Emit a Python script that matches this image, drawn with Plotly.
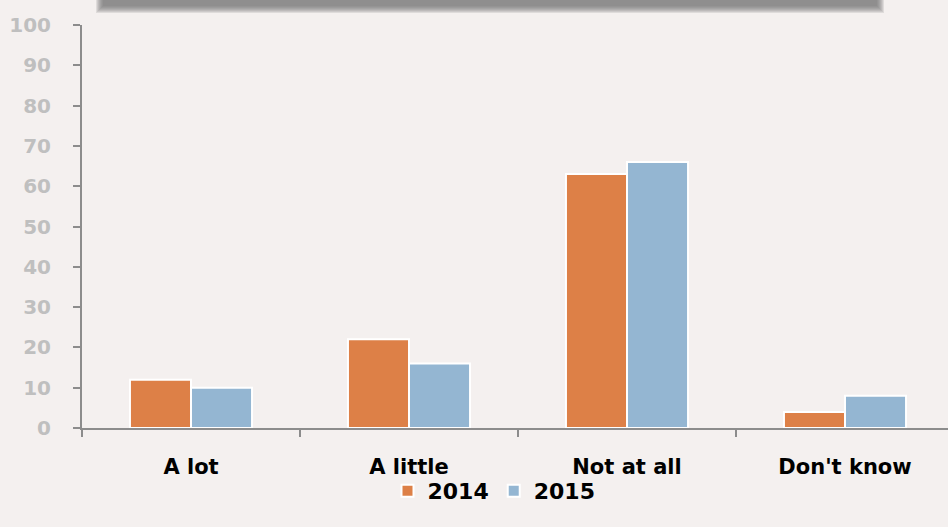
import plotly.graph_objects as go

categories = ["A lot", "A little", "Not at all", "Don't know"]
values_2014 = [12, 22, 63, 4]
values_2015 = [10, 16, 66, 8]
series_names = ["2014", "2015"]
y_ticks = [0, 10, 20, 30, 40, 50, 60, 70, 80, 90, 100]

colors = ["#DD8047", "#94B6D2"]
bg = "#F4F0EF"
font_family = "DejaVu Sans"

W, H = 948, 527
ML, MR, MT, MB = 82, 0, 25, 99
PW, PH = W - ML - MR, H - MT - MB


def px_x(v):
    return (v - ML) / PW


def px_y(v):
    return 1 + (MT - v) / PH


fig = go.Figure()
for name, vals, col in zip(series_names, [values_2014, values_2015], colors):
    fig.add_trace(go.Bar(
        x=categories, y=vals, name=name,
        marker=dict(color=col, line=dict(color="white", width=2)),
    ))

# soft shadowed header box at the top (partially cut off)
for i in range(8):
    grow = 7 - i
    fig.add_shape(type="rect", xref="paper", yref="paper",
                  x0=px_x(103 - grow), x1=px_x(877 + grow),
                  y0=px_y(6 + grow), y1=px_y(-5),
                  fillcolor="#6E6E6E", opacity=0.16, line=dict(width=0), layer="above")

fig.update_layout(
    width=W, height=H,
    paper_bgcolor=bg, plot_bgcolor=bg,
    margin=dict(l=ML, r=MR, t=MT, b=MB, autoexpand=False),
    barmode="group", bargap=0.44, bargroupgap=0.0,
    font=dict(family=font_family),
    showlegend=True,
    legend=dict(orientation="h", x=px_x(494), xanchor="center", y=px_y(470), yanchor="top",
                font=dict(size=22, color="black", family=font_family, weight="bold"),
                itemwidth=30, traceorder="normal", bgcolor="rgba(0,0,0,0)"),
    xaxis=dict(
        range=[-0.5, 3.5 - 6 / 218], showgrid=False, showline=True, linecolor="#8C8C8C", linewidth=2,
        ticks="outside", tickson="boundaries", ticklen=7, tickcolor="#8C8C8C", tickwidth=1.5,
        tickfont=dict(size=21, color="black", family=font_family, weight="bold"),
        ticklabelstandoff=19,
    ),
    yaxis=dict(
        range=[0, 100], tickvals=y_ticks, showgrid=False, zeroline=False,
        showline=True, linecolor="#8C8C8C", linewidth=2,
        ticks="outside", ticklen=7, tickcolor="#8C8C8C", tickwidth=1.5,
        tickfont=dict(size=20, color="#BFBFBF", family=font_family, weight="bold"),
        ticklabelstandoff=18,
    ),
)

fig.write_html(
    "out.html",
    config={"displayModeBar": False},
    post_script="document.body.style.margin='0';document.body.style.overflow='hidden';"
                "document.body.style.background='" + bg + "';",
)
